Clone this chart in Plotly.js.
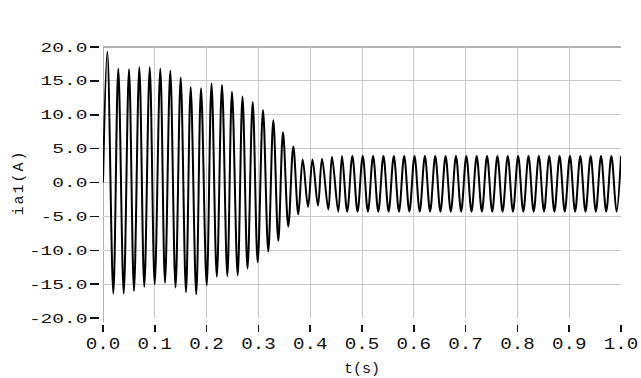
<!DOCTYPE html>
<html><head><meta charset="utf-8">
<script src="https://cdn.plot.ly/plotly-3.0.1.min.js"></script>
<style>
html,body{margin:0;padding:0;background:#fff;}
#chart{width:641px;height:378px;}
.g-ytitle text{letter-spacing:2px;}
</style></head><body><div id="chart"></div>
<script>
// time (s) of each read extreme of the current waveform
const tSec = [0, 0.0083, 0.0199, 0.0295, 0.0400, 0.0502, 0.0598, 0.0701, 0.0797, 0.0902,
  0.0998, 0.1106, 0.1197, 0.1299, 0.1400, 0.1500, 0.1602, 0.1693, 0.1800, 0.1892,
  0.2002, 0.2095, 0.2197, 0.2297, 0.2400, 0.2490, 0.2600, 0.2693, 0.2790, 0.2890,
  0.2986, 0.3089, 0.3191, 0.3288, 0.3384, 0.3475, 0.3577, 0.3674, 0.3770, 0.3855,
  0.3958, 0.4044, 0.4150, 0.4228, 0.4350, 0.4420, 0.4542, 0.4614,
  0.4714, 0.4814, 0.4914, 0.5014, 0.5114, 0.5214, 0.5314, 0.5414, 0.5514, 0.5614,
  0.5714, 0.5814, 0.5914, 0.6014, 0.6114, 0.6214, 0.6314, 0.6414, 0.6514, 0.6614,
  0.6714, 0.6814, 0.6914, 0.7014, 0.7114, 0.7214, 0.7314, 0.7414, 0.7514, 0.7614,
  0.7714, 0.7814, 0.7914, 0.8014, 0.8114, 0.8214, 0.8314, 0.8414, 0.8514, 0.8614,
  0.8714, 0.8814, 0.8914, 0.9014, 0.9114, 0.9214, 0.9314, 0.9414, 0.9514, 0.9614,
  0.9714, 0.9814, 0.9914, 1.0];
// current ia1 (A) at those extremes
const ia1 = [0, 19.3, -16.4, 16.8, -16.4, 16.7, -16.0, 17.0, -15.4, 17.0,
  -15.0, 16.8, -14.8, 16.5, -15.5, 15.5, -16.2, 14.1, -16.5, 13.9,
  -15.2, 14.6, -13.9, 14.4, -13.8, 13.4, -13.7, 12.7, -12.7, 11.9,
  -11.8, 10.7, -10.2, 9.2, -8.6, 7.4, -6.5, 5.3, -4.7, 3.4,
  -3.6, 3.4, -3.4, 3.5, -4.0, 3.8, -4.3, 3.9,
  -4.3, 3.9, -4.3, 3.9, -4.3, 3.9, -4.3, 3.9, -4.3, 3.9,
  -4.3, 3.9, -4.3, 3.9, -4.3, 3.9, -4.3, 3.9, -4.3, 3.9,
  -4.3, 3.9, -4.3, 3.9, -4.3, 3.9, -4.3, 3.9, -4.3, 3.9,
  -4.3, 3.9, -4.3, 3.9, -4.3, 3.9, -4.3, 3.9, -4.3, 3.9,
  -4.3, 3.9, -4.3, 3.9, -4.3, 3.9, -4.3, 3.9, -4.3, 3.9,
  -4.3, 3.9, -4.3, 3.9];
const xTickVals = [0, 0.1, 0.2, 0.3, 0.4, 0.5, 0.6, 0.7, 0.8, 0.9, 1.0];
const xTickText = ['0.0', '0.1', '0.2', '0.3', '0.4', '0.5', '0.6', '0.7', '0.8', '0.9', '1.0'];
const yTickVals = [-20, -15, -10, -5, 0, 5, 10, 15, 20];
const yTickText = ['-20.0', '-15.0', '-10.0', '-5.0', '0.0', '5.0', '10.0', '15.0', '20.0'];

const W = 641, H = 378, ML = 99, MR = 20, MT = 47, MB = 54;
const font = 'Liberation Mono, DejaVu Sans Mono, monospace';

Plotly.newPlot('chart', [{
  x: tSec, y: ia1, type: 'scatter', mode: 'lines',
  line: {color: '#000', width: 2, shape: 'spline', smoothing: 1},
  hoverinfo: 'skip'
}], {
  width: W, height: H,
  margin: {l: ML, r: MR, t: MT, b: MB, pad: 0},
  paper_bgcolor: '#fff', plot_bgcolor: '#fff',
  showlegend: false,
  xaxis: {
    domain: [4 / (W - ML - MR), 1], range: [0, 1],
    anchor: 'free', position: 0,
    tickmode: 'array', tickvals: xTickVals, ticktext: xTickText,
    ticks: 'outside', ticklen: 7, tickwidth: 1.5, tickcolor: '#111',
    showgrid: true, gridcolor: '#c9c9c9', gridwidth: 1,
    zeroline: false, showline: false,
    tickfont: {family: font, size: 16, color: '#111'},
    title: {text: 't(s)', font: {family: font, size: 15, color: '#111'}, standoff: 8}
  },
  yaxis: {
    domain: [6 / (H - MT - MB), 1], range: [-20, 20],
    anchor: 'free', position: 0,
    tickmode: 'array', tickvals: yTickVals, ticktext: yTickText,
    ticks: 'outside', ticklen: 9, tickwidth: 1.5, tickcolor: '#111',
    showgrid: true, gridcolor: '#c9c9c9', gridwidth: 1,
    zeroline: false, showline: false,
    tickfont: {family: font, size: 13, color: '#111'},
    title: {text: 'ia1(A)', font: {family: font, size: 15, color: '#111'}, standoff: 20}
  },
  shapes: [
    {type: 'line', xref: 'x', yref: 'paper', x0: 0, x1: 0, y0: 0.005, y1: 1,
     line: {color: '#999', width: 1.5}, layer: 'below'},
    {type: 'line', xref: 'x', yref: 'paper', x0: 0, x1: 1, y0: 1, y1: 1,
     line: {color: '#999', width: 1.5}, layer: 'below'}
  ]
}, {staticPlot: true, displayModeBar: false}).then(function (gd) {
  // widen the label glyphs like the original wide bitmap font
  function widen(sel, sx, dy) {
    gd.querySelectorAll(sel).forEach(function (t) {
      const x = +t.getAttribute('x') || 0, y = +t.getAttribute('y') || 0;
      const tr = t.getAttribute('transform') || '';
      t.setAttribute('transform', tr + ' translate(0,' + dy + ') translate(' + x + ',' + y +
        ') scale(' + sx + ',1) translate(' + (-x) + ',' + (-y) + ')');
    });
  }
  widen('.ytick text', 1.5, 0);
  widen('.xtick text', 1.2, -2);
});
</script></body></html>
